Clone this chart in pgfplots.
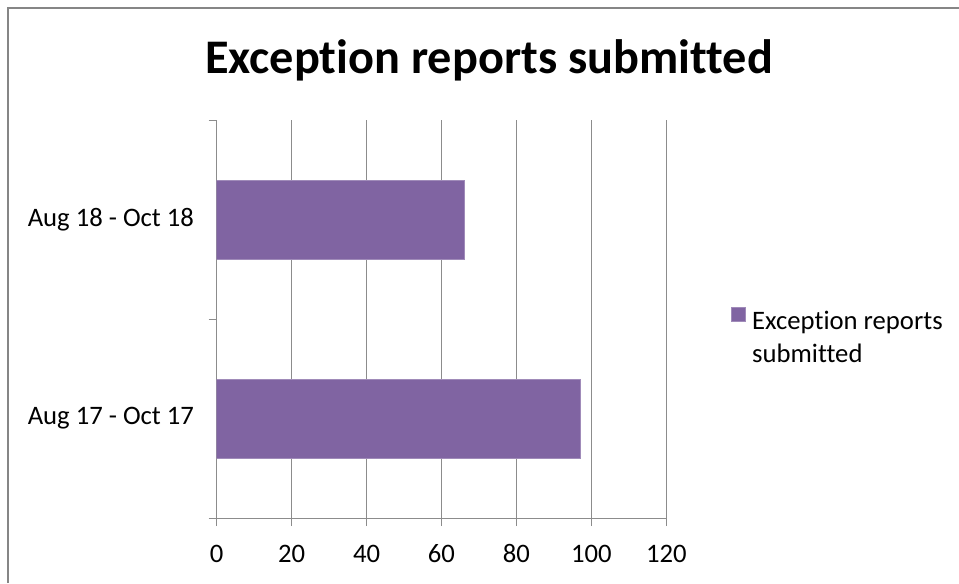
\documentclass[border=0pt]{standalone}
\usepackage{pgfplots}
\pgfplotsset{compat=1.18}
\usepackage{fontspec}
\setmainfont{Carlito}[Ligatures=NoCommon]
\definecolor{barpurple}{HTML}{8064A2}
\definecolor{gridgray}{HTML}{8C8C8C}
\definecolor{framegray}{HTML}{868686}
\begin{document}
\begin{tikzpicture}
\path[use as bounding box] (0,0) rectangle (719.25pt,-437.25pt);
\draw[framegray, line width=1.5pt] (6pt,-437.25pt) -- (6pt,-6pt) -- (719.25pt,-6pt);
\node[anchor=base, inner sep=0pt, font=\fontsize{36.2pt}{42pt}\selectfont\bfseries] at (366.75pt,-55pt) {Exception reports submitted};
\begin{axis}[
  at={(162.5pt,-388.5pt)}, anchor=south west,
  width=337.2pt, height=298.5pt, scale only axis,
  xmin=0, xmax=120, ymin=-0.5, ymax=1.5,
  axis lines*=left,
  axis line style={gridgray, line width=0.75pt},
  xbar, bar width=0.397,
  xtick={0,20,...,120},
  xmajorgrids,
  grid style={gridgray, line width=0.75pt},
  tick style={gridgray, line width=0.75pt},
  tick align=outside,
  major tick length=6pt,
  ytick={-0.5,0.5,1.5}, yticklabels={},
  extra y ticks={0,1},
  extra y tick labels={Aug 17 - Oct 17, Aug 18 - Oct 18},
  extra y tick style={major tick length=0pt},
  ticklabel style={font=\fontsize{20pt}{24pt}\selectfont, text=black},
  /pgf/number format/assume math mode=true,
  xticklabel style={yshift=-10.5pt},
  yticklabel style={xshift=-13.5pt},
  legend style={at={(axis description cs:1.143,0.470)}, anchor=west, draw=none,
    font=\fontsize{20pt}{24pt}\selectfont, row sep=5pt, inner sep=0pt,
    legend cell align=left},
  legend image code/.code={\fill[#1] (0pt,0pt) rectangle (10.5pt,10.5pt); \path (13.5pt,19.5pt);},
]
\addplot[fill=barpurple, draw=barpurple!75!white, line width=0.5pt] coordinates {(97,0) (66,1)};
\addlegendentry{Exception reports}
\addlegendimage{empty legend}
\addlegendentry{submitted}
\end{axis}
\end{tikzpicture}
\end{document}
